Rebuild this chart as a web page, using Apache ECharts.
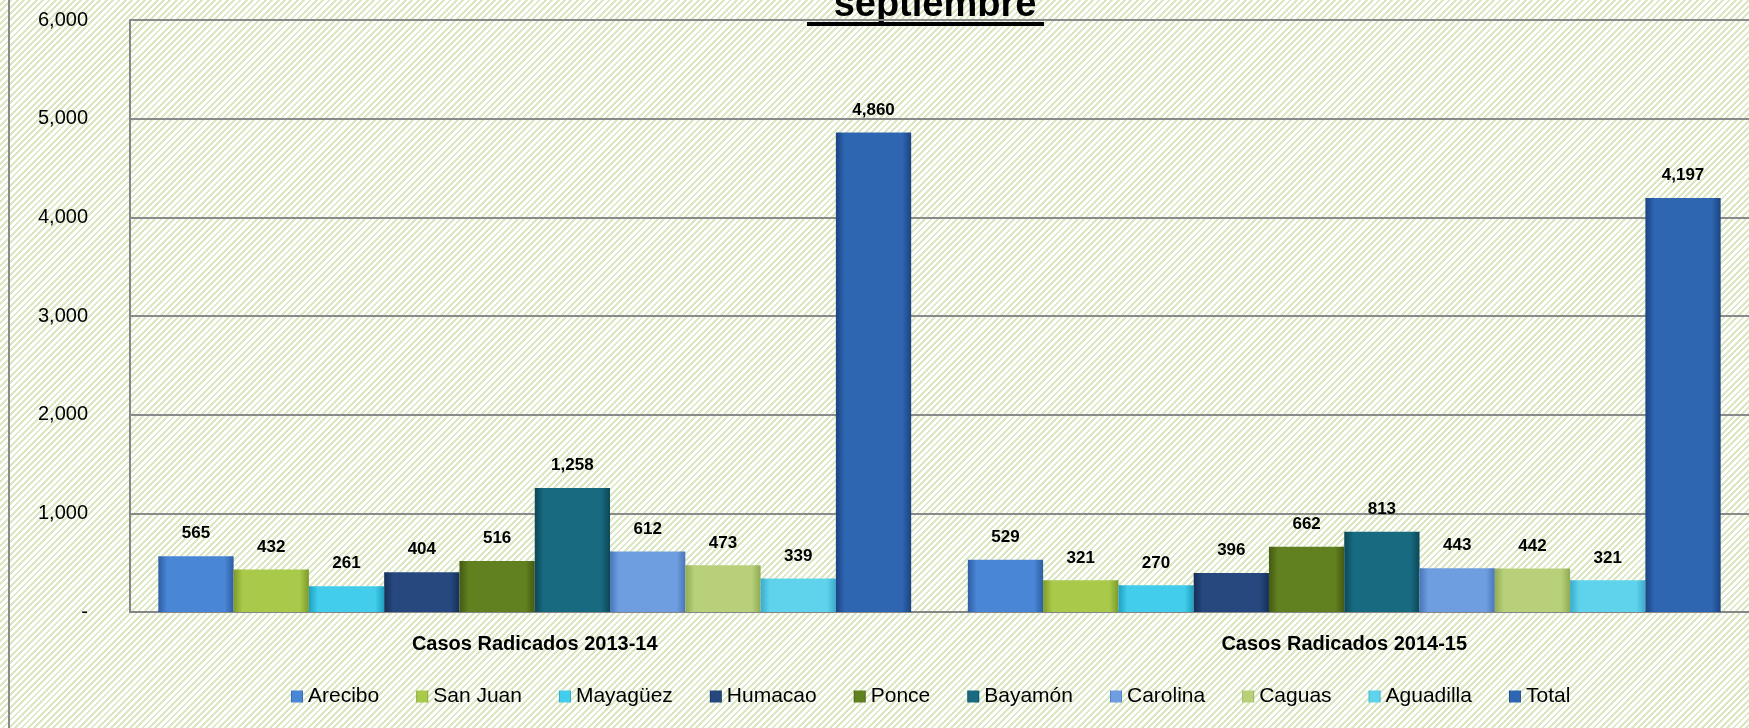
<!DOCTYPE html>
<html>
<head>
    <meta charset="UTF-8">
    <title>Casos Radicados septiembre</title>
    <script src="https://cdn.jsdelivr.net/npm/echarts@6/dist/echarts.min.js"></script>
    <style>
        html, body { margin: 0; padding: 0; }
        /* light green diagonal hatch behind the chart */
        #chart {
            width: 1749px; height: 728px;
            background-color: #ffffff;
            background-image: repeating-linear-gradient(135deg, #ffffff 0 2.5px, #dbe6c2 2.5px 4.5px);
        }
    </style>
</head>
<body>
<div id="chart"></div>
<script type="text/javascript">
    // data
    var categories = ['Casos Radicados 2013-14', 'Casos Radicados 2014-15'];
    var regions = ['Arecibo', 'San Juan', 'Mayagüez', 'Humacao', 'Ponce', 'Bayamón', 'Carolina', 'Caguas', 'Aguadilla', 'Total'];
    var arecibo = [565, 529];
    var sanJuan = [432, 321];
    var mayaguez = [261, 270];
    var humacao = [404, 396];
    var ponce = [516, 662];
    var bayamon = [1258, 813];
    var carolina = [612, 443];
    var caguas = [473, 442];
    var aguadilla = [339, 321];
    var total = [4860, 4197];
    var values = [arecibo, sanJuan, mayaguez, humacao, ponce, bayamon, carolina, caguas, aguadilla, total];

    // [edge, centre] colours for the bevelled bars
    var barColors = [
        ['#2d5ea3', '#4a86d6'],
        ['#7d9a2a', '#a9c94a'],
        ['#1f9fc0', '#42cdec'],
        ['#152f58', '#26487e'],
        ['#435a12', '#61801f'],
        ['#0d4757', '#176a80'],
        ['#4a76b8', '#6f9ee0'],
        ['#91aa54', '#b8d07a'],
        ['#3aabcb', '#5fd2ec'],
        ['#1c4381', '#2e66b2']
    ];

    var font = '"Liberation Sans", Arial, sans-serif';

    function grad(c) {
        return {
            type: 'linear', x: 0, y: 0, x2: 1, y2: 0,
            colorStops: [
                {offset: 0, color: c[0]},
                {offset: 0.12, color: c[1]},
                {offset: 0.88, color: c[1]},
                {offset: 1, color: c[0]}
            ]
        };
    }

    var series = [];
    for (var i = 0; i < regions.length; i++) {
        series.push({
            name: regions[i],
            type: 'bar',
            barGap: '0%',
            barCategoryGap: '7%',
            data: values[i],
            itemStyle: { color: grad(barColors[i]) },
            label: {
                show: true,
                position: 'top',
                distance: 14,
                color: '#000',
                fontWeight: 'bold',
                fontSize: 17,
                fontFamily: font,
                formatter: function (p) { return p.value.toLocaleString('en-US'); }
            }
        });
    }

    var myChart = echarts.init(document.getElementById('chart'));
    var option = {
        animation: false,
        backgroundColor: 'transparent',
        grid: { left: 130, top: 20, bottom: 116, right: -17 },
        legend: {
            data: regions,
            left: 286,
            top: 681,
            icon: 'rect',
            itemWidth: 12,
            itemHeight: 12,
            itemGap: 37,
            textStyle: { fontSize: 21, color: '#000', fontFamily: font }
        },
        xAxis: {
            type: 'category',
            data: categories,
            axisTick: { show: false },
            axisLine: { lineStyle: { color: '#868686', width: 2 } },
            axisLabel: { margin: 22, fontSize: 20, fontWeight: 'bold', color: '#000', fontFamily: font }
        },
        yAxis: {
            type: 'value',
            min: 0,
            max: 6000,
            interval: 1000,
            axisLine: { show: true, lineStyle: { color: '#868686', width: 2 } },
            axisTick: { show: false },
            splitLine: { lineStyle: { color: '#8a8a8a', width: 2 } },
            axisLabel: {
                margin: 42,
                fontSize: 20,
                color: '#000',
                fontFamily: font,
                formatter: function (v) { return v === 0 ? '-' : v.toLocaleString('en-US'); }
            }
        },
        graphic: [
            {   // chart area left border
                type: 'line', silent: true,
                shape: { x1: 9, y1: 0, x2: 9, y2: 728 },
                style: { stroke: '#8a8a8a', lineWidth: 2 }
            },
            {   // title, cut off at the top
                type: 'text', silent: true,
                x: 935, y: 25,
                style: {
                    text: 'septiembre',
                    font: 'bold 38px ' + font,
                    fill: '#000',
                    textAlign: 'center',
                    textVerticalAlign: 'bottom'
                }
            },
            {   // underline of the title
                type: 'rect', silent: true,
                shape: { x: 807, y: 22, width: 237, height: 4 },
                style: { fill: '#000' }
            }
        ],
        series: series
    };
    myChart.setOption(option);
</script>
</body>
</html>
